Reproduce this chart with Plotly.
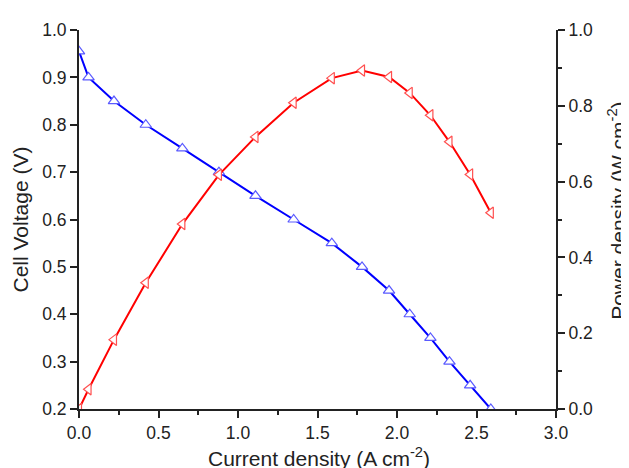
import plotly.graph_objects as go

current = [0.0, 0.06, 0.22, 0.42, 0.65, 0.88, 1.11, 1.35, 1.59, 1.78, 1.95, 2.08, 2.21, 2.33, 2.46, 2.59]
voltage = [0.955, 0.90, 0.85, 0.80, 0.75, 0.70, 0.65, 0.60, 0.55, 0.50, 0.45, 0.40, 0.35, 0.30, 0.25, 0.20]
power = [0.0, 0.052, 0.183, 0.333, 0.488, 0.618, 0.718, 0.808, 0.873, 0.893, 0.876, 0.834, 0.775, 0.705, 0.619, 0.518]

x_title = "Current density (A cm<sup>-2</sup>)"
y_title = "Cell Voltage (V)"
y2_title = "Power density (W cm<sup>-2</sup>)"

FONT = "Arial, Liberation Sans, sans-serif"
AX = "#222222"

fig = go.Figure()
fig.add_trace(go.Scatter(
    x=current, y=voltage, mode="lines+markers", yaxis="y",
    line=dict(color="#0000ff", width=2),
    marker=dict(symbol="triangle-up", size=10, color="white",
                line=dict(color="#5a5aff", width=1.2)),
    showlegend=False))
fig.add_trace(go.Scatter(
    x=current, y=power, mode="lines+markers", yaxis="y2",
    line=dict(color="#ff0000", width=2),
    marker=dict(symbol="triangle-left", size=10, color="white",
                line=dict(color="#ff5050", width=1.2)),
    showlegend=False))

tickfont = dict(family=FONT, size=17.5, color=AX)
titlefont = dict(family=FONT, size=21, color=AX)

# the page body adds an 8 px margin, so the figure is 8 px smaller than the window
fig.update_layout(
    width=621, height=460,
    margin=dict(l=71, r=73, t=13, b=59),
    paper_bgcolor="white", plot_bgcolor="white",
    xaxis=dict(range=[0, 3.0], dtick=0.5, tick0=0, tickformat=".1f",
               showline=True, linecolor=AX, linewidth=2, mirror=False,
               ticks="outside", ticklen=7, tickwidth=2, tickcolor=AX,
               minor=dict(dtick=0.25, ticks="outside", ticklen=4, tickwidth=2, tickcolor=AX, showgrid=False),
               showgrid=False, zeroline=False, tickfont=tickfont),
    yaxis=dict(range=[0.2, 1.0], dtick=0.1, tick0=0, tickformat=".1f",
               showline=True, linecolor=AX, linewidth=2,
               ticks="outside", ticklen=7, tickwidth=2, tickcolor=AX,
               showgrid=False, zeroline=False, tickfont=tickfont),
    yaxis2=dict(range=[0, 1.0], dtick=0.2, tick0=0, tickformat=".1f",
                overlaying="y", side="right",
                showline=True, linecolor=AX, linewidth=2,
                ticks="outside", ticklen=7, tickwidth=2, tickcolor=AX,
                minor=dict(dtick=0.1, ticks="outside", ticklen=4, tickwidth=2, tickcolor=AX, showgrid=False),
                showgrid=False, zeroline=False, tickfont=tickfont),
    annotations=[
        dict(text=x_title, xref="paper", yref="paper", x=0.503, y=-0.126,
             xanchor="center", yanchor="middle", showarrow=False, font=titlefont),
        dict(text=y_title, xref="paper", yref="paper", x=-0.1216, y=0.5,
             xanchor="center", yanchor="middle", showarrow=False, font=titlefont, textangle=-90),
        dict(text=y2_title, xref="paper", yref="paper", x=1.128, y=0.523,
             xanchor="center", yanchor="middle", showarrow=False, font=titlefont, textangle=-90),
    ],
)

fig.write_html("out.html")
